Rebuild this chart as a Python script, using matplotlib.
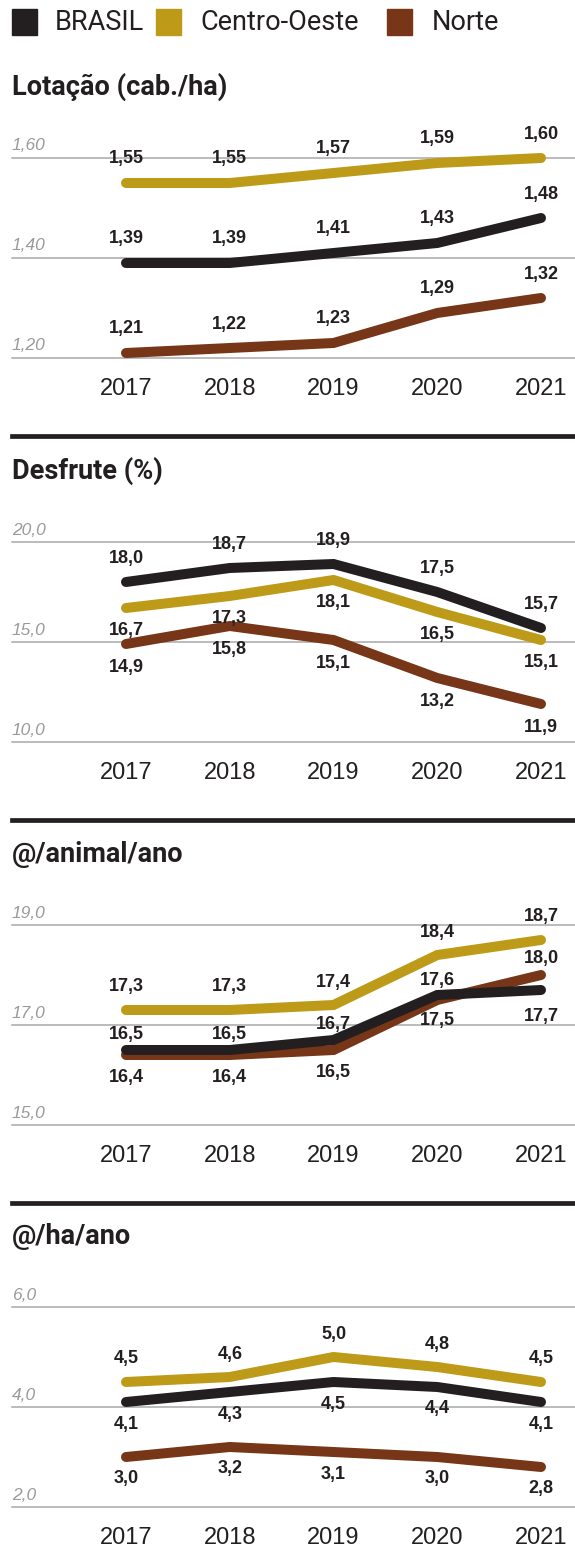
import matplotlib
matplotlib.use("Agg")
import matplotlib.pyplot as plt
from matplotlib.patches import Rectangle
from matplotlib.lines import Line2D

# dados
anos = [2017, 2018, 2019, 2020, 2021]
regioes = ["BRASIL", "Centro-Oeste", "Norte"]

lotacao_brasil = [1.39, 1.39, 1.41, 1.43, 1.48]
lotacao_co = [1.55, 1.55, 1.57, 1.59, 1.60]
lotacao_norte = [1.21, 1.22, 1.23, 1.29, 1.32]

desfrute_brasil = [18.0, 18.7, 18.9, 17.5, 15.7]
desfrute_co = [16.7, 17.3, 18.1, 16.5, 15.1]
desfrute_norte = [14.9, 15.8, 15.1, 13.2, 11.9]

animal_brasil = [16.5, 16.5, 16.7, 17.6, 17.7]
animal_co = [17.3, 17.3, 17.4, 18.4, 18.7]
animal_norte = [16.4, 16.4, 16.5, 17.5, 18.0]

ha_brasil = [4.1, 4.3, 4.5, 4.4, 4.1]
ha_co = [4.5, 4.6, 5.0, 4.8, 4.5]
ha_norte = [3.0, 3.2, 3.1, 3.0, 2.8]

titulos = ["Lotação (cab./ha)", "Desfrute (%)", "@/animal/ano", "@/ha/ano"]
ticks = [[1.20, 1.40, 1.60], [10.0, 15.0, 20.0], [15.0, 17.0, 19.0], [2.0, 4.0, 6.0]]
casas = [2, 1, 1, 1]

cores = {"BRASIL": "#231f20", "Centro-Oeste": "#bd9a18", "Norte": "#763617"}

# deslocamento vertical dos rotulos (px, positivo = acima)
desl = [
    {"BRASIL": [24] * 5, "Centro-Oeste": [24] * 5, "Norte": [24] * 5},
    {"BRASIL": [24] * 5, "Centro-Oeste": [-22] * 5, "Norte": [-23] * 5},
    {"BRASIL": [15, 15, 15, 15, -27], "Centro-Oeste": [23] * 5, "Norte": [-22, -22, -22, -20, 17]},
    {"BRASIL": [-22] * 5, "Centro-Oeste": [23] * 5, "Norte": [-22] * 5},
]

paineis = [
    {"BRASIL": lotacao_brasil, "Centro-Oeste": lotacao_co, "Norte": lotacao_norte},
    {"BRASIL": desfrute_brasil, "Centro-Oeste": desfrute_co, "Norte": desfrute_norte},
    {"BRASIL": animal_brasil, "Centro-Oeste": animal_co, "Norte": animal_norte},
    {"BRASIL": ha_brasil, "Centro-Oeste": ha_co, "Norte": ha_norte},
]

# posicao das grades em pixels (topo, base)
grades_px = [(158, 358), (542, 742), (925, 1125), (1307, 1507)]
separadores = [436, 820, 1203]

W, H = 575, 1550
fig = plt.figure(figsize=(W / 100, H / 100), dpi=100)

def fx(x):
    return x / W

def fy(y):
    return 1 - y / H

PT = 0.72  # px -> pontos
x0 = 12
passo = 103.75
xmin = 2017 - (126 - x0) / passo
xmax = 2021 + (W - 541) / passo

fonte_num = "Liberation Sans"
fonte_ano = ["Liberation Sans Narrow", "Liberation Sans"]
fonte_tit = "Roboto"

for i, dados in enumerate(paineis):
    topo, base = grades_px[i]
    ax = fig.add_axes([fx(x0), fy(base), fx(W - x0), (base - topo) / H])
    ax.set_xlim(xmin, xmax)
    ax.set_ylim(ticks[i][0], ticks[i][-1])
    ax.axis("off")

    for t in ticks[i]:
        ax.axhline(t, color="#a8a8a8", lw=1.1, clip_on=False, zorder=1)
        ax.annotate(f"{t:.{casas[i]}f}".replace(".", ","), (xmin, t),
                    xytext=(0, 12 * PT), textcoords="offset points",
                    ha="left", va="center", fontsize=12.5, style="italic",
                    color="#9a9a9a", family=fonte_num)

    for reg in ["Norte", "BRASIL", "Centro-Oeste"]:
        ax.plot(anos, dados[reg], color=cores[reg], lw=7.2,
                solid_capstyle="round", solid_joinstyle="miter", zorder=3,
                clip_on=False)
        for j, v in enumerate(dados[reg]):
            ax.annotate(f"{v:.{casas[i]}f}".replace(".", ","), (anos[j], v),
                        xytext=(0, desl[i][reg][j] * PT), textcoords="offset points",
                        ha="center", va="center", fontsize=13, fontweight="bold",
                        color="#231f20", family=fonte_num, zorder=4)

    for a in anos:
        ax.annotate(str(a), (a, ticks[i][0]), xytext=(0, -31 * PT),
                    textcoords="offset points", ha="center", va="center",
                    fontsize=17, color="#231f20", family=fonte_ano)

    fig.text(fx(x0), fy(topo - 71), titulos[i], fontsize=19.5, fontweight="bold",
             color="#231f20", family=fonte_tit, ha="left", va="center")

for y in separadores:
    fig.add_artist(Line2D([fx(x0), 1], [fy(y), fy(y)], transform=fig.transFigure,
                          color="#231f20", lw=3.4))

# legenda
leg_x = [(12, 55), (156, 200), (387, 432)]
for (qx, tx), reg in zip(leg_x, regioes):
    fig.add_artist(Rectangle((fx(qx), fy(35)), fx(25), 26 / H,
                             transform=fig.transFigure, color=cores[reg]))
    fig.text(fx(tx), fy(22), reg, fontsize=19.5, color="#231f20",
             family=fonte_tit, ha="left", va="center")

fig.savefig("out.png", dpi=100)
